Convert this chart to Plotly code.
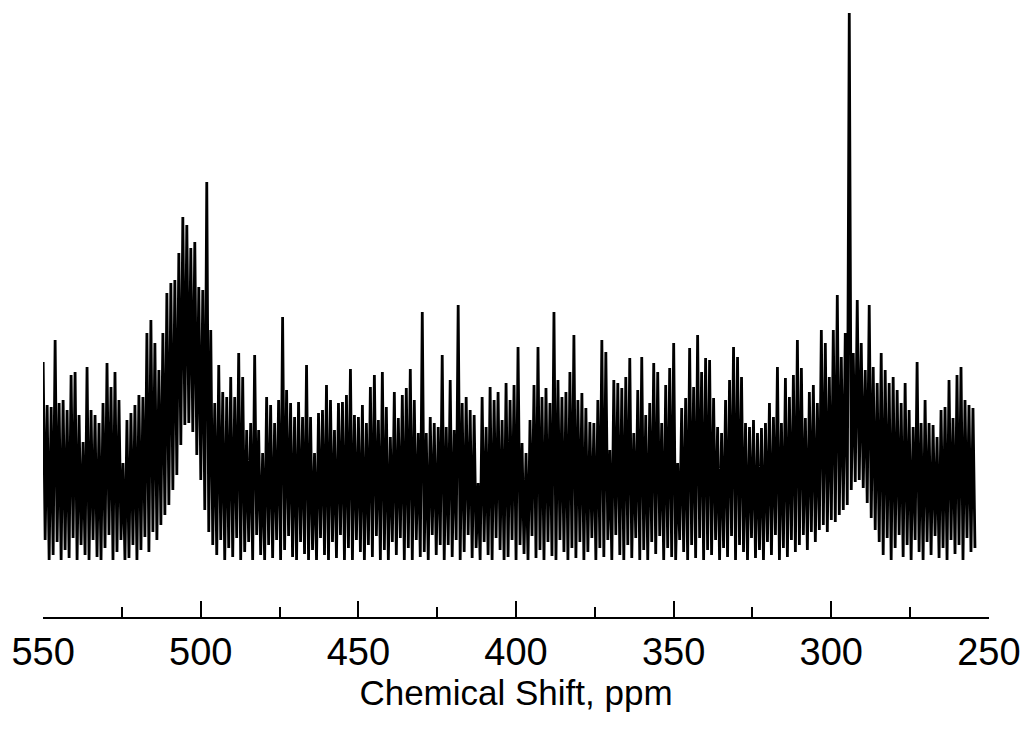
import numpy as np
import plotly.graph_objects as go

shift_first = 550.0
shift_last = 254.4

# Upper excursions of the noisy spectrum (arbitrary intensity units), read left to right
tops = [
    198,155,153,220,157,160,150,185,188,145,118,193,150,145,137,157,197,173,188,160,
    97,140,147,155,165,163,227,240,217,190,227,267,277,
    280,307,343,335,312,318,273,270,378,230,157,195,168,163,183,163,207,183,130,137,
    205,130,107,163,155,137,160,243,170,157,143,158,143,195,
    143,107,147,150,175,160,130,157,158,165,191,145,143,155,137,173,185,140,188,153,
    123,168,142,165,172,191,160,127,248,127,143,137,133,
    205,133,180,130,255,157,163,150,145,77,163,133,173,160,168,140,177,160,175,213,
    117,107,140,175,213,163,172,157,248,180,163,168,188,225,
    160,167,152,138,137,160,220,208,110,180,177,172,183,202,127,170,203,145,157,197,
    188,137,175,192,217,97,152,162,212,173,225,188,202,
    200,162,133,127,160,180,213,203,183,137,133,140,127,132,137,157,143,193,137,182,
    163,185,220,192,142,168,175,157,230,217,183,230,265,203,
    227,547,207,260,217,190,255,193,177,207,190,177,183,170,157,177,150,133,198,137,
    160,137,135,123,150,153,180,142,185,193,160,155,152,
]

# Lower excursions following each upper one
bottoms = [
    20,0,5,18,0,10,2,22,0,15,5,0,20,3,0,12,25,0,8,20,
    0,2,15,0,10,23,8,28,20,35,45,55,70,
    85,115,135,137,128,105,80,50,28,15,5,20,0,12,3,22,0,8,18,0,
    25,5,0,15,2,20,0,10,24,3,0,18,6,0,
    10,0,22,5,0,18,2,25,0,12,0,20,8,0,15,3,24,0,10,0,
    18,5,22,0,12,0,20,3,8,0,25,5,15,
    0,15,3,20,0,8,25,2,12,0,18,5,0,22,10,0,3,20,0,15,
    6,0,24,2,10,0,18,4,0,20,8,0,12,2,
    18,0,8,22,0,12,3,20,0,25,5,0,15,2,22,0,10,0,18,6,
    24,0,12,3,0,20,8,0,15,2,22,0,10,
    5,20,0,12,3,24,0,15,8,0,22,2,10,0,18,5,25,0,12,3,
    20,8,15,25,10,28,18,30,35,28,40,38,45,50,
    55,70,78,80,72,57,42,30,18,5,22,0,12,25,3,15,0,20,8,0,
    18,5,24,2,12,0,20,6,15,0,22,8,12,
]

major_ticks = [550, 500, 450, 400, 350, 300, 250]
minor_ticks = [525, 475, 425, 375, 325, 275]

# Build the trace: alternate upper and lower excursions
intensity = []
for t, b in zip(tops, bottoms):
    intensity.append(t)
    intensity.append(b)
shift = np.linspace(shift_first, shift_last, len(intensity))

fig = go.Figure(go.Scatter(
    x=shift, y=intensity, mode="lines",
    line=dict(color="black", width=2.8),
    hoverinfo="skip", showlegend=False,
))

fig.update_layout(
    width=1021, height=729,
    margin=dict(l=43, r=32, t=0, b=112),
    paper_bgcolor="white", plot_bgcolor="white",
    font=dict(family="Liberation Sans, Arial, sans-serif", color="black"),
    showlegend=False,
)
fig.update_xaxes(
    range=[550.05, 249.95],
    showline=True, linecolor="black", linewidth=2,
    showgrid=False, zeroline=False,
    tickmode="array", tickvals=major_ticks, ticktext=[str(v) for v in major_ticks],
    ticks="inside", ticklen=16, tickwidth=2, tickcolor="black",
    minor=dict(tickvals=minor_ticks, ticks="inside", ticklen=10, tickwidth=2,
               tickcolor="black", showgrid=False),
    tickfont=dict(size=38, color="black"),
    ticklabelstandoff=0,
    ticklabeloverflow="allow",
    title=dict(text="Chemical Shift, ppm", font=dict(size=35, color="black"), standoff=0),
)
fig.update_yaxes(range=[-57, 560], visible=False, showgrid=False, zeroline=False)

fig.write_html("out.html", config={"displayModeBar": False},
               post_script="document.body.style.margin='0';")
